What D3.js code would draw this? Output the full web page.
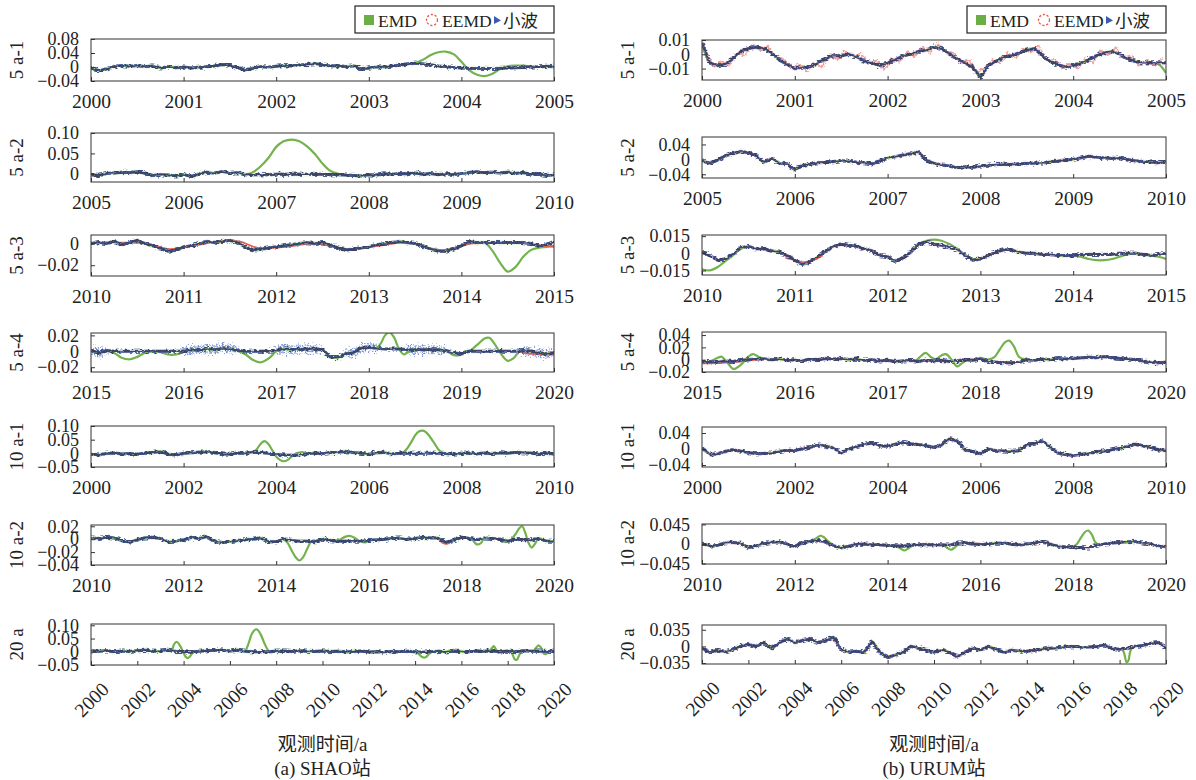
<!DOCTYPE html>
<html>
<head>
<meta charset="utf-8">
<script src="https://cdn.jsdelivr.net/npm/d3@7"></script>
<style>
body { margin: 0; background: #fff; }
svg { display: block; }
text { font-family: "Liberation Serif", "Times New Roman", Times, "DejaVu Serif", serif, "Noto Sans CJK SC"; fill: #222; }
</style>
</head>
<body>
<svg id="chart" width="1196" height="780">
  <defs>
    <filter id="rough" filterUnits="userSpaceOnUse" x="0" y="0" width="1196" height="780">
      <feTurbulence type="fractalNoise" baseFrequency="0.28 0.6" numOctaves="2" seed="4" result="n"/>
      <feDisplacementMap in="SourceGraphic" in2="n" scale="5" xChannelSelector="R" yChannelSelector="G"/>
    </filter>
    <filter id="scatter" filterUnits="userSpaceOnUse" x="0" y="0" width="1196" height="780">
      <feTurbulence type="fractalNoise" baseFrequency="0.5 0.5" numOctaves="2" seed="9" result="n"/>
      <feDisplacementMap in="SourceGraphic" in2="n" scale="12" xChannelSelector="R" yChannelSelector="G"/>
    </filter>
  </defs>
</svg>
<script>
// ---- data: wavelet (小波) series, evenly spaced over each panel's span ----
// SHAO station (left column)
const wavL1 = [-0.004,-0.010,-0.006,0.002,0.004,0.002,0.004,0.001,0.003,-0.003,0.001,-0.002,
  0.000,-0.003,-0.001,0.001,0.003,0.007,0.005,-0.002,-0.008,-0.004,0.001,-0.001,
  0.002,0.004,0.003,0.006,0.007,0.010,0.006,0.003,0.004,0.001,0.003,-0.005,
  -0.003,0.001,-0.001,0.003,0.005,0.009,0.011,0.009,0.006,0.003,0.001,-0.001,
  -0.003,-0.004,-0.004,-0.004,-0.004,-0.004,-0.003,-0.002,-0.001,0.001,0.000,0.002,0.001];
const wavL2 = [-0.002,-0.004,0.001,0.002,0.004,0.003,0.005,0.002,-0.004,-0.002,-0.003,-0.005,
  -0.002,-0.006,0.000,0.004,0.002,0.005,0.001,0.003,-0.002,-0.002,-0.002,-0.002,
  -0.001,-0.001,-0.001,-0.001,-0.001,-0.001,-0.001,-0.002,-0.002,-0.003,-0.004,-0.005,
  -0.002,-0.003,0.000,-0.001,0.001,0.000,0.002,-0.001,0.001,-0.002,0.000,-0.002,
  0.001,0.003,0.005,0.003,0.004,0.002,0.004,0.001,0.003,-0.001,0.001,-0.004,-0.002];
const wavL3 = [0.000,0.001,0.000,0.002,-0.001,0.001,0.003,0.000,-0.002,-0.004,-0.007,-0.006,
  -0.003,-0.002,0.000,0.002,0.001,0.002,0.003,0.001,-0.003,-0.006,-0.005,-0.004,
  -0.003,-0.002,-0.001,0.000,0.001,0.000,0.001,-0.001,-0.004,-0.006,-0.005,-0.004,
  -0.003,-0.001,0.000,0.001,0.002,0.001,0.000,-0.002,-0.005,-0.007,-0.007,-0.005,
  -0.002,0.002,0.001,0.001,0.001,0.001,0.001,0.001,0.001,0.000,-0.002,-0.001,0.002];
const wavL4 = [0.002,-0.002,0.001,0.000,0.000,0.000,0.000,0.000,0.000,0.000,0.000,0.000,
  0.000,0.002,0.001,0.003,0.002,0.004,0.003,0.001,0.000,0.000,0.000,0.000,
  0.001,0.003,0.002,0.003,0.003,0.003,0.002,-0.007,-0.008,-0.003,-0.002,0.004,
  0.005,0.004,0.003,0.003,0.003,0.002,0.002,0.002,0.002,0.002,0.001,-0.002,
  -0.003,0.000,0.000,0.000,0.000,0.000,0.000,0.000,0.001,0.000,-0.002,-0.003,-0.002];
const wavL5 = [-0.003,-0.006,0.000,0.001,-0.002,-0.001,-0.003,0.000,0.003,0.007,-0.003,-0.006,
  0.000,0.002,0.004,0.006,0.003,-0.002,-0.003,0.001,0.000,0.004,0.003,0.000,
  -0.004,-0.006,-0.007,-0.006,-0.002,0.001,-0.001,0.003,0.004,0.007,0.003,0.000,
  -0.003,0.002,0.004,-0.002,0.001,0.000,0.000,0.000,0.000,0.000,-0.001,-0.003,
  0.000,0.001,-0.002,0.001,-0.001,0.002,0.000,0.004,0.002,0.001,-0.002,0.001,-0.003];
const wavL6 = [0.002,0.001,0.003,0.002,-0.002,-0.005,-0.001,0.002,0.003,0.001,-0.004,-0.003,
  -0.001,0.003,0.001,0.004,-0.003,-0.005,-0.004,-0.002,-0.001,0.000,0.002,-0.004,
  -0.004,0.001,-0.002,-0.003,-0.003,-0.004,0.000,-0.002,-0.003,-0.003,-0.003,-0.003,
  -0.002,-0.001,0.000,0.001,0.002,0.000,0.001,0.003,0.002,0.002,-0.005,-0.002,
  0.003,0.001,-0.001,0.002,0.001,0.000,-0.003,0.000,-0.001,-0.001,0.001,-0.003,-0.003];
const wavL7 = [0.004,0.002,0.004,0.000,0.003,0.001,0.004,0.006,0.002,0.003,0.006,0.001,
  0.000,-0.002,0.002,0.004,0.006,0.007,0.003,0.006,0.002,0.000,0.000,0.000,
  0.002,0.003,0.001,0.004,0.002,0.001,0.003,0.001,0.002,0.000,0.001,0.003,
  -0.001,0.000,-0.002,0.001,0.000,0.002,0.000,-0.002,0.000,0.002,0.000,0.002,
  0.001,0.000,0.003,0.002,0.004,-0.001,0.003,0.000,0.004,0.002,0.003,0.001,0.002];

// URUM station (right column)
const wavR1 = [0.008,-0.006,-0.008,-0.007,-0.003,0.002,0.004,0.005,0.004,0.001,-0.004,-0.007,
  -0.010,-0.009,-0.009,-0.006,-0.003,-0.001,-0.001,0.000,-0.002,-0.005,-0.006,-0.008,
  -0.006,-0.004,-0.001,0.000,0.002,0.003,0.005,0.004,0.000,-0.003,-0.006,-0.009,
  -0.016,-0.008,-0.005,-0.002,-0.001,0.001,0.003,0.004,-0.001,-0.005,-0.007,-0.009,
  -0.008,-0.006,-0.004,-0.001,0.001,0.002,0.000,-0.003,-0.005,-0.006,-0.006,-0.006,-0.006];
const wavR2 = [-0.004,-0.011,-0.002,0.010,0.016,0.021,0.018,0.010,-0.008,0.002,-0.010,-0.012,
  -0.027,-0.016,-0.013,-0.009,-0.008,-0.006,-0.004,-0.005,-0.008,-0.009,-0.012,-0.004,
  0.004,0.007,0.012,0.015,0.020,-0.003,-0.011,-0.015,-0.018,-0.022,-0.020,-0.021,
  -0.018,-0.016,-0.014,-0.013,-0.014,-0.012,-0.011,-0.010,-0.010,-0.006,-0.005,-0.002,
  0.000,0.004,0.008,0.006,0.004,0.002,0.004,0.000,-0.004,-0.006,-0.007,-0.009,-0.006];
const wavR3 = [0.001,-0.002,-0.006,-0.005,-0.001,0.005,0.006,0.004,0.004,0.002,0.001,-0.002,
  -0.006,-0.010,-0.007,-0.003,0.002,0.006,0.008,0.007,0.006,0.004,0.002,-0.002,
  -0.003,-0.007,-0.004,0.001,0.008,0.010,0.008,0.007,0.005,0.003,-0.002,-0.006,
  -0.005,-0.002,0.001,0.003,0.003,0.001,0.000,0.000,-0.001,-0.001,-0.002,-0.002,
  -0.002,-0.001,-0.001,-0.001,-0.001,-0.001,0.000,0.000,0.000,-0.001,-0.002,-0.001,0.000];
const wavR4 = [-0.004,-0.003,-0.004,-0.002,-0.003,-0.001,0.000,0.001,0.001,0.000,0.001,-0.001,
  0.000,-0.002,0.001,0.000,0.002,0.001,0.002,0.000,0.001,-0.001,0.000,-0.002,
  -0.001,-0.003,-0.002,-0.001,-0.003,0.000,-0.002,-0.001,-0.003,-0.002,0.000,-0.001,
  0.001,-0.003,-0.004,-0.005,-0.005,-0.004,0.000,-0.001,0.001,0.000,0.002,0.001,
  0.002,0.003,0.004,0.003,0.005,0.003,0.002,0.001,0.000,-0.002,-0.004,-0.005,-0.004];
const wavR5 = [0.002,-0.012,-0.013,-0.006,-0.002,-0.005,-0.009,-0.012,-0.011,-0.010,-0.006,-0.003,
  -0.004,0.001,0.004,0.010,0.007,0.003,-0.010,0.000,0.006,0.012,0.015,0.008,
  0.007,0.012,0.016,0.013,0.011,0.008,0.004,0.010,0.026,0.020,-0.002,-0.006,
  -0.012,0.000,-0.004,-0.005,-0.006,-0.004,0.010,0.014,0.020,0.005,-0.010,-0.014,
  -0.016,-0.013,-0.011,-0.007,-0.005,-0.002,0.002,0.006,0.012,0.008,0.004,-0.002,-0.004];
const wavR6 = [0.002,-0.005,-0.003,0.003,0.004,0.001,-0.008,-0.004,0.001,0.004,0.005,-0.001,
  -0.005,0.002,0.006,0.008,0.005,-0.004,-0.009,-0.005,-0.001,0.000,-0.002,-0.002,
  -0.003,-0.004,-0.005,-0.003,-0.002,-0.001,-0.002,-0.002,-0.003,0.002,0.003,0.000,
  -0.001,0.000,0.002,0.002,0.000,-0.002,0.000,0.002,0.005,0.000,-0.005,-0.007,
  -0.006,-0.008,-0.009,-0.003,0.000,0.002,0.004,0.005,0.006,0.002,0.000,-0.005,-0.006];
const wavR7 = [-0.004,-0.012,-0.008,-0.012,-0.006,0.000,0.004,0.000,0.008,-0.004,0.008,0.016,
  0.008,0.012,0.016,0.008,0.012,0.020,-0.006,-0.012,-0.010,-0.012,0.010,-0.012,
  -0.023,-0.018,-0.012,0.000,-0.004,-0.008,-0.012,-0.008,-0.012,-0.022,-0.012,-0.004,
  -0.008,0.000,-0.006,-0.012,-0.008,-0.010,-0.010,-0.008,-0.006,-0.004,-0.003,-0.001,
  0.000,-0.002,-0.001,0.000,0.003,-0.004,-0.006,-0.004,0.000,0.002,0.006,0.008,-0.004];

// ---- EMD: stretches where it leaves the other curves, [year, value] ----
const emdL1 = [[[2003.50,0.011],[2003.58,0.020],[2003.67,0.034],[2003.75,0.042],[2003.83,0.044],[2003.92,0.036],
  [2004.00,0.015],[2004.08,-0.008],[2004.17,-0.022],[2004.25,-0.026],[2004.33,-0.020],[2004.42,-0.006],
  [2004.50,0.002],[2004.58,0.004],[2004.67,0.004],[2004.75,0.002]]];
const emdL2 = [[[2006.67,-0.002],[2006.75,0.004],[2006.83,0.018],[2006.92,0.040],[2007.00,0.066],[2007.08,0.080],
  [2007.17,0.084],[2007.25,0.080],[2007.33,0.068],[2007.42,0.048],[2007.50,0.025],[2007.58,0.008],[2007.67,0.000]]];
const emdL3 = [[[2014.25,0.001],[2014.33,-0.006],[2014.42,-0.018],[2014.50,-0.026],[2014.58,-0.022],[2014.67,-0.012],
  [2014.75,-0.006],[2014.83,-0.004],[2014.92,-0.003],[2015.00,-0.002]]];
const emdL4 = [
  [[2015.17,0.001],[2015.25,-0.002],[2015.33,-0.008],[2015.42,-0.010],[2015.50,-0.007],[2015.58,-0.002],
   [2015.67,0.000],[2015.75,-0.001],[2015.83,-0.004],[2015.92,-0.004],[2016.00,-0.001],[2016.08,0.002]],
  [[2016.58,0.001],[2016.67,-0.004],[2016.75,-0.011],[2016.83,-0.014],[2016.92,-0.009],[2017.00,0.000],[2017.08,0.003]],
  [[2018.08,0.004],[2018.13,0.010],[2018.17,0.019],[2018.22,0.024],[2018.27,0.018],[2018.33,0.002],
   [2018.38,-0.004],[2018.42,-0.001],[2018.50,0.002]],
  [[2018.83,0.001],[2018.92,-0.005],[2019.00,-0.004],[2019.04,0.000]],
  [[2019.08,0.000],[2019.17,0.008],[2019.25,0.016],[2019.30,0.017],[2019.36,0.009],[2019.42,-0.002],
   [2019.50,-0.012],[2019.56,-0.009],[2019.63,0.000],[2019.70,0.001]]];
const emdL5 = [
  [[2003.50,0.004],[2003.58,0.015],[2003.67,0.036],[2003.75,0.045],[2003.83,0.034],[2003.92,0.010],
   [2004.00,-0.012],[2004.08,-0.024],[2004.17,-0.029],[2004.25,-0.024],[2004.33,-0.012],[2004.42,-0.001],
   [2004.50,0.003],[2004.58,0.004],[2004.67,0.001]],
  [[2006.67,0.001],[2006.75,0.004],[2006.83,0.018],[2006.92,0.042],[2007.00,0.066],[2007.08,0.080],
   [2007.17,0.083],[2007.25,0.075],[2007.33,0.058],[2007.42,0.036],[2007.50,0.015],[2007.58,0.003],[2007.67,-0.001]]];
const emdL6 = [
  [[2014.17,0.000],[2014.25,-0.006],[2014.33,-0.017],[2014.42,-0.028],[2014.50,-0.033],[2014.58,-0.028],
   [2014.67,-0.015],[2014.75,-0.004],[2014.83,-0.002]],
  [[2015.17,-0.002],[2015.33,-0.002],[2015.50,0.004],[2015.58,0.005],[2015.67,0.003],[2015.83,-0.004],
   [2015.92,-0.005],[2016.00,-0.002]],
  [[2018.17,0.001],[2018.25,-0.002],[2018.33,-0.008],[2018.42,-0.006],[2018.50,0.002]],
  [[2018.83,0.000],[2018.92,-0.004],[2019.00,-0.004],[2019.08,0.000],[2019.17,0.008],[2019.25,0.017],
   [2019.31,0.020],[2019.38,0.010],[2019.44,-0.004],[2019.52,-0.013],[2019.58,-0.008],[2019.67,0.001]]];
const emdL7 = [
  [[2003.33,0.006],[2003.50,0.010],[2003.60,0.030],[2003.72,0.037],[2003.85,0.022],[2003.98,0.000],
   [2004.08,-0.018],[2004.18,-0.024],[2004.30,-0.015],[2004.43,0.000],[2004.60,0.002]],
  [[2006.67,0.002],[2006.80,0.030],[2006.95,0.068],[2007.10,0.084],[2007.20,0.083],[2007.35,0.062],
   [2007.50,0.030],[2007.65,0.006],[2007.75,0.001]],
  [[2014.00,0.000],[2014.15,-0.008],[2014.30,-0.020],[2014.45,-0.021],[2014.60,-0.008],[2014.75,0.000]],
  [[2015.33,0.000],[2015.50,0.005],[2015.67,0.007],[2015.85,0.002],[2016.00,0.001]],
  [[2017.20,0.003],[2017.30,0.012],[2017.40,0.021],[2017.50,0.008],[2017.60,-0.004],[2017.70,-0.001]],
  [[2018.10,0.003],[2018.20,-0.008],[2018.30,-0.028],[2018.40,-0.030],[2018.50,-0.012],[2018.60,0.002]],
  [[2019.10,0.002],[2019.20,0.012],[2019.33,0.024],[2019.45,0.014],[2019.55,-0.006],[2019.65,-0.009],[2019.78,0.000]]];

const emdR1 = [[[2004.83,-0.006],[2004.92,-0.007],[2005.00,-0.013]]];
const emdR2 = [];
const emdR3 = [
  [[2010.00,-0.014],[2010.08,-0.015],[2010.17,-0.012],[2010.25,-0.007],[2010.33,-0.002],[2010.42,0.004]],
  [[2012.33,0.008],[2012.42,0.011],[2012.50,0.012],[2012.58,0.011],[2012.67,0.008],[2012.75,0.004],
   [2012.83,-0.001],[2012.92,-0.005]],
  [[2014.00,-0.002],[2014.08,-0.003],[2014.17,-0.005],[2014.25,-0.006],[2014.33,-0.006],[2014.42,-0.005],
   [2014.50,-0.003],[2014.58,-0.001],[2014.67,0.000]],
  [[2014.83,-0.002],[2014.92,-0.003],[2015.00,-0.005]]];
const emdR4 = [
  [[2015.08,-0.003],[2015.17,0.003],[2015.21,0.005],[2015.27,-0.004],[2015.34,-0.015],[2015.42,-0.008],
   [2015.50,0.005],[2015.55,0.009],[2015.62,0.004],[2015.70,0.001]],
  [[2017.30,-0.002],[2017.36,0.006],[2017.41,0.011],[2017.47,0.004],[2017.52,0.001],[2017.58,0.007],
   [2017.63,0.009],[2017.69,0.000],[2017.75,-0.011],[2017.80,-0.006],[2017.86,0.000]],
  [[2018.00,0.003],[2018.08,0.000],[2018.15,0.004],[2018.21,0.017],[2018.27,0.029],[2018.31,0.031],
   [2018.36,0.022],[2018.42,0.004],[2018.50,0.000]]];
const emdR5 = [];
const emdR6 = [
  [[2012.33,0.006],[2012.45,0.012],[2012.55,0.019],[2012.62,0.016],[2012.72,0.006],[2012.83,-0.003]],
  [[2014.17,-0.004],[2014.27,-0.010],[2014.36,-0.015],[2014.45,-0.010],[2014.55,-0.003]],
  [[2015.20,-0.002],[2015.30,-0.010],[2015.38,-0.013],[2015.47,-0.006],[2015.55,0.002]],
  [[2018.00,-0.006],[2018.08,0.000],[2018.17,0.015],[2018.25,0.027],[2018.32,0.031],[2018.40,0.022],
   [2018.47,0.005],[2018.55,-0.001]]];
const emdR7 = [[[2018.10,-0.005],[2018.20,-0.015],[2018.30,-0.033],[2018.38,-0.030],[2018.45,-0.012],[2018.55,-0.002]]];

// ---- EEMD: stretches where it shows apart from the wavelet curve ----
const eemdL3 = [[[2010.00,0.001],[2010.30,0.001],[2010.60,0.000],[2010.85,-0.005],[2011.10,-0.002],[2011.40,0.002],
  [2011.60,0.002],[2011.80,-0.004],[2012.10,-0.003],[2012.40,0.000],[2012.80,-0.005],[2013.10,-0.002],
  [2013.40,0.001],[2013.80,-0.006],[2014.10,0.000],[2014.30,0.001],[2014.60,0.001],[2014.80,-0.001],[2015.00,-0.003]]];
const eemdL4 = [[[2019.60,0.000],[2019.75,-0.003],[2019.90,-0.004],[2020.00,-0.004]]];
const eemdL6 = [[[2017.50,0.002],[2017.60,-0.006],[2017.70,-0.007],[2017.80,-0.002]]];
const eemdR1 = [[[2000.04,0.002],[2000.13,-0.009],[2000.21,-0.005],[2000.29,-0.008],[2000.38,0.001],[2000.46,-0.001],
  [2000.54,0.007],[2000.63,0.002],[2000.71,0.006],[2000.79,-0.002],[2000.88,-0.003],[2000.96,-0.010],
  [2001.04,-0.007],[2001.13,-0.012],[2001.21,-0.006],[2001.29,-0.009],[2001.38,0.000],[2001.46,-0.004],
  [2001.54,0.002],[2001.63,-0.002],[2001.71,0.001],[2001.79,-0.007],[2001.88,-0.004],[2001.96,-0.011],
  [2002.04,-0.003],[2002.13,-0.005],[2002.21,0.002],[2002.29,-0.002],[2002.38,0.005],[2002.46,0.001],
  [2002.54,0.008],[2002.63,0.002],[2002.71,0.001],[2002.79,-0.006],[2002.88,-0.004],[2002.96,-0.012],
  [2003.04,-0.010],[2003.13,-0.004],[2003.21,-0.006],[2003.29,0.001],[2003.38,-0.003],[2003.46,0.004],
  [2003.54,0.001],[2003.63,0.006],[2003.71,-0.004],[2003.79,-0.003],[2003.88,-0.010],[2003.96,-0.006],
  [2004.04,-0.010],[2004.13,-0.003],[2004.21,-0.006],[2004.29,0.003],[2004.38,-0.001],[2004.46,0.005],
  [2004.54,-0.002],[2004.63,-0.001],[2004.71,-0.008],[2004.79,-0.004],[2004.88,-0.008],[2004.96,-0.003]]];
const eemdR3 = [[[2010.90,-0.004],[2011.00,-0.006],[2011.10,-0.008],[2011.20,-0.006],[2011.30,-0.002]]];
const eemdR4 = [[[2015.00,-0.006],[2015.20,-0.005],[2015.40,-0.003],[2015.60,0.000]]];

// stretches of scattered raw points around the wavelet curve (SHAO 5 a-4)
const speckleL4 = [[2015.0,2015.2],[2016.0,2016.6],[2017.0,2017.5],[2017.75,2018.1],[2018.4,2018.9],[2019.6,2020.0]];

// ---- axes ----
const xTicks1 = [2000,2001,2002,2003,2004,2005];
const xTicks2 = [2005,2006,2007,2008,2009,2010];
const xTicks3 = [2010,2011,2012,2013,2014,2015];
const xTicks4 = [2015,2016,2017,2018,2019,2020];
const xTicks5 = [2000,2002,2004,2006,2008,2010];
const xTicks6 = [2010,2012,2014,2016,2018,2020];
const xTicks7 = [2000,2002,2004,2006,2008,2010,2012,2014,2016,2018,2020];

const panelNames = ['5 a-1','5 a-2','5 a-3','5 a-4','10 a-1','10 a-2','20 a'];
const spans = [[2000,2005],[2005,2010],[2010,2015],[2015,2020],[2000,2010],[2010,2020],[2000,2020]];
const xTickSets = [xTicks1,xTicks2,xTicks3,xTicks4,xTicks5,xTicks6,xTicks7];

const yTicksL = [[-0.04,0,0.04,0.08],[0,0.05,0.10],[-0.02,0],[-0.02,0,0.02],[-0.05,0,0.05,0.10],[-0.04,-0.02,0,0.02],[-0.05,0,0.05,0.10]];
const yTextL = [['−0.04','0','0.04','0.08'],['0','0.05','0.10'],['−0.02','0'],['−0.02','0','0.02'],
  ['−0.05','0','0.05','0.10'],['−0.04','−0.02','0','0.02'],['−0.05','0','0.05','0.10']];
const yDomL = [[-0.04,0.08],[-0.02,0.10],[-0.03,0.008],[-0.026,0.023],[-0.05,0.10],[-0.04,0.022],[-0.05,0.105]];

const yTicksR = [[-0.01,0,0.01],[-0.04,0,0.04],[-0.015,0,0.015],[-0.02,0,0.02,0.04],[-0.04,0,0.04],[-0.045,0,0.045],[-0.035,0,0.035]];
const yTextR = [['−0.01','0','0.01'],['−0.04','0','0.04'],['−0.015','0','0.015'],['−0.02','0','0.02','0.04'],
  ['−0.04','0','0.04'],['−0.045','0','0.045'],['−0.035','0','0.035']];
const yDomR = [[-0.018,0.01],[-0.05,0.06],[-0.019,0.016],[-0.02,0.045],[-0.045,0.055],[-0.046,0.046],[-0.037,0.045]];

const legendNames = ['EMD','EEMD','小波'];

// ---- layout ----
const svg = d3.select('#chart');
const columns = [
  { x0: 91, x1: 554, rows: [[39,81],[133,182],[235,276],[333,372],[426,467],[525,565],[624,665]],
    wav: [wavL1,wavL2,wavL3,wavL4,wavL5,wavL6,wavL7],
    emd: [emdL1,emdL2,emdL3,emdL4,emdL5,emdL6,emdL7],
    eemd: [null,null,eemdL3,eemdL4,null,eemdL6,null],
    speckle: [null,null,null,speckleL4,null,null,null],
    yTicks: yTicksL, yText: yTextL, yDom: yDomL, titleX: 16,
    xlabel: '观测时间/a', caption: '(a) SHAO站' },
  { x0: 702, x1: 1166, rows: [[40,80],[137,178],[235,275],[332,372],[427,467],[524,564],[625,664]],
    wav: [wavR1,wavR2,wavR3,wavR4,wavR5,wavR6,wavR7],
    emd: [emdR1,emdR2,emdR3,emdR4,emdR5,emdR6,emdR7],
    eemd: [eemdR1,null,eemdR3,eemdR4,null,null,null],
    speckle: [null,null,null,null,null,null,null],
    yTicks: yTicksR, yText: yTextR, yDom: yDomR, titleX: 627,
    xlabel: '观测时间/a', caption: '(b) URUM站' }
];

const cGreen = '#72b34c', cRed = '#e8584e', cBlue = '#4a62b2', cDark = '#3c4260';

function toPoints(vals, start, end) {
  const step = (end - start) / (vals.length - 1);
  return vals.map((v, i) => [start + i * step, v]);
}

// wavelet points outside the stretches, plus the stretch points
function spliceIn(base, segs) {
  let pts = base.filter(p => !segs.some(s => p[0] > s[0][0] - 1e-6 && p[0] < s[s.length - 1][0] + 1e-6));
  segs.forEach(s => { pts = pts.concat(s); });
  return pts.sort((a, b) => a[0] - b[0]);
}

let clipId = 0;
columns.forEach((col, ci) => {
  col.rows.forEach((r, k) => {
    const [top, bottom] = r;
    const [t0, t1] = spans[k];
    const x = d3.scaleLinear().domain([t0, t1]).range([col.x0, col.x1]);
    const y = d3.scaleLinear().domain(col.yDom[k]).range([bottom, top]);
    const g = svg.append('g');

    const id = 'clip' + (clipId++);
    g.append('clipPath').attr('id', id).append('rect')
      .attr('x', col.x0).attr('y', top).attr('width', col.x1 - col.x0).attr('height', bottom - top);

    const wav = toPoints(col.wav[k], t0, t1);
    const emd = spliceIn(wav, col.emd[k]);
    const line = d3.line().x(d => x(d[0])).y(d => y(d[1]));
    const smooth = d3.line().x(d => x(d[0])).y(d => y(d[1])).curve(d3.curveCatmullRom);

    const plot = g.append('g').attr('clip-path', `url(#${id})`);

    // scattered raw points
    if (col.speckle[k]) {
      col.speckle[k].forEach(rg => {
        const part = wav.filter(p => p[0] >= rg[0] - 1e-6 && p[0] <= rg[1] + 1e-6);
        plot.append('path').datum(part).attr('d', line)
          .attr('fill', 'none').attr('stroke', '#4d68c4').attr('stroke-width', 9)
          .attr('stroke-dasharray', '1 1.6').attr('opacity', 0.75)
          .attr('filter', 'url(#scatter)');
      });
    }

    // EMD (green) under everything
    plot.append('path').datum(emd).attr('d', smooth)
      .attr('fill', 'none').attr('stroke', cGreen).attr('stroke-width', 2.2);

    // EEMD (red)
    if (col.eemd[k]) {
      col.eemd[k].forEach(s => {
        const pink = ci === 1 && k === 0;
        const p = plot.append('path').datum(s).attr('d', pink ? line : smooth)
          .attr('fill', 'none').attr('stroke', pink ? '#f0a09a' : cRed)
          .attr('stroke-width', pink ? 1.6 : 1.8);
        if (pink) p.attr('filter', 'url(#rough)');
      });
    }
    plot.append('path').datum(wav).attr('d', line)
      .attr('fill', 'none').attr('stroke', ci === 1 ? '#c9677a' : cGreen)
      .attr('stroke-width', 3.8).attr('opacity', 0.35).attr('filter', 'url(#rough)');

    // wavelet (blue / dark) on top, roughened like the daily series
    const wg = plot.append('g').attr('filter', 'url(#rough)');
    wg.append('path').datum(wav).attr('d', line)
      .attr('fill', 'none').attr('stroke', cBlue).attr('stroke-width', 3);
    wg.append('path').datum(wav).attr('d', line)
      .attr('fill', 'none').attr('stroke', cDark).attr('stroke-width', 1.9);

    // frame
    g.append('rect').attr('x', col.x0).attr('y', top)
      .attr('width', col.x1 - col.x0).attr('height', bottom - top)
      .attr('fill', 'none').attr('stroke', '#333').attr('stroke-width', 1);

    // y axis
    const yAxis = g.append('g').attr('transform', `translate(${col.x0},0)`)
      .call(d3.axisLeft(y).tickValues(col.yTicks[k]).tickSizeInner(-4).tickSizeOuter(0).tickPadding(12)
        .tickFormat((d, i) => col.yText[k][i]));
    yAxis.attr('font-family', null);
    yAxis.select('.domain').remove();
    yAxis.selectAll('line').attr('stroke', '#333');
    yAxis.selectAll('text').attr('font-size', 18).attr('fill', '#222');

    // x axis
    const xAxis = g.append('g').attr('transform', `translate(0,${bottom})`)
      .call(d3.axisBottom(x).tickValues(xTickSets[k]).tickSizeInner(-4).tickSizeOuter(0).tickPadding(13)
        .tickFormat(d3.format('d')));
    xAxis.attr('font-family', null);
    xAxis.select('.domain').remove();
    xAxis.selectAll('line').attr('stroke', '#333');
    xAxis.selectAll('text').attr('font-size', 19.5).attr('fill', '#222');
    if (k === 6) {
      xAxis.selectAll('text')
        .attr('text-anchor', 'end').attr('dy', null)
        .attr('transform', 'translate(9,16) rotate(-45)')
        .attr('y', 0).attr('x', 0)
        .attr('dominant-baseline', 'hanging');
    }

    // panel title
    g.append('text')
      .attr('transform', `translate(${col.titleX},${(top + bottom) / 2}) rotate(-90)`)
      .attr('text-anchor', 'middle').attr('dominant-baseline', 'central')
      .attr('font-size', 19).text(panelNames[k]);
  });

  // legend
  const lx = col.x1 - 199, ly = 6;
  const lg = svg.append('g');
  lg.append('rect').attr('x', lx).attr('y', ly).attr('width', 199).attr('height', 27)
    .attr('fill', '#fff').attr('stroke', '#222').attr('stroke-width', 1.2);
  lg.append('rect').attr('x', lx + 9).attr('y', ly + 9).attr('width', 10).attr('height', 10).attr('fill', '#6aae45');
  lg.append('circle').attr('cx', lx + 77).attr('cy', ly + 14).attr('r', 5.5)
    .attr('fill', 'none').attr('stroke', cRed).attr('stroke-width', 1.3).attr('stroke-dasharray', '2.2 1.8');
  lg.append('path').attr('d', `M${lx + 139},${ly + 10} L${lx + 146},${ly + 14.5} L${lx + 139},${ly + 18} Z`)
    .attr('fill', '#3b5bb0');
  const lpos = [lx + 23, lx + 87, lx + 148];
  legendNames.forEach((n, i) => {
    lg.append('text').attr('x', lpos[i]).attr('y', ly + 20.5).attr('font-size', 17.5).text(n);
  });

  // bottom labels
  const cx = (col.x0 + col.x1) / 2;
  svg.append('text').attr('x', cx).attr('y', 751).attr('text-anchor', 'middle')
    .attr('font-size', 19).text(col.xlabel);
  svg.append('text').attr('x', cx).attr('y', 775).attr('text-anchor', 'middle')
    .attr('font-size', 19).text(col.caption);
});
</script>
</body>
</html>
